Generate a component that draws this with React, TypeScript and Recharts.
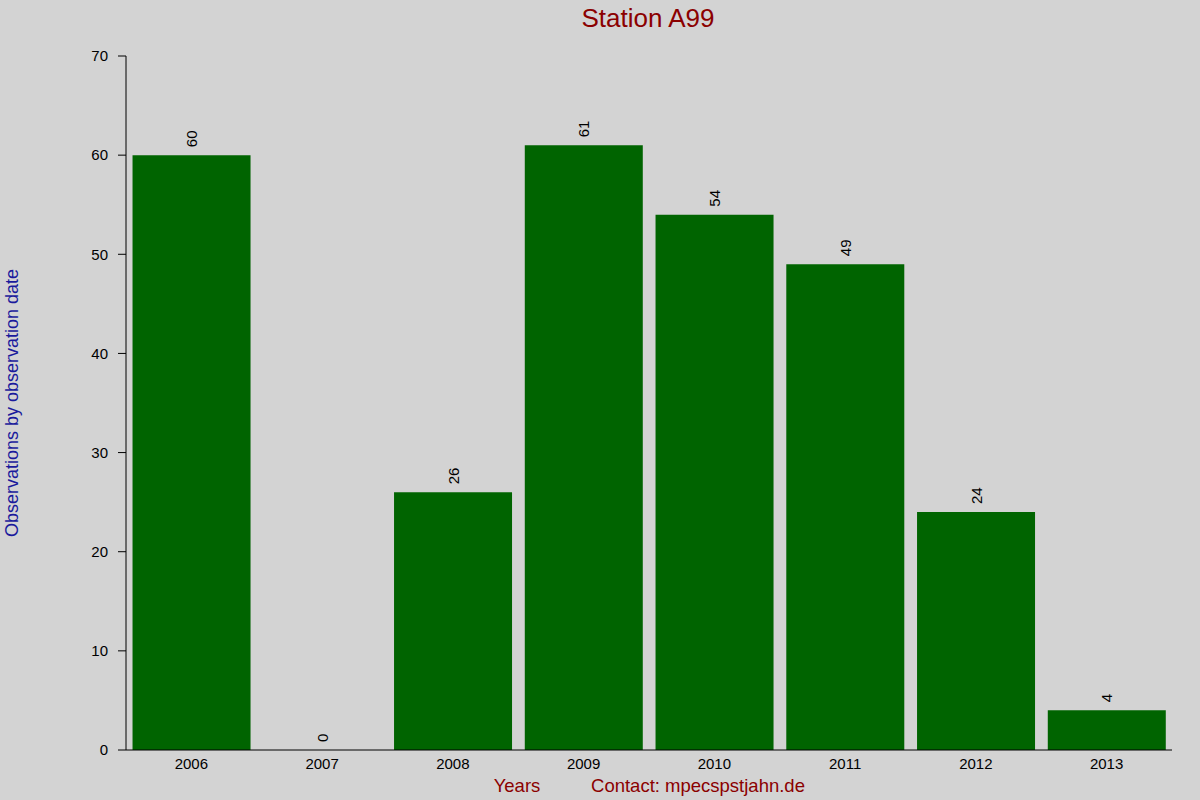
import React from 'react';
import { BarChart, Bar, XAxis, YAxis, LabelList, Label } from 'recharts';

const years = ['2006', '2007', '2008', '2009', '2010', '2011', '2012', '2013'];
const observations = [60, 0, 26, 61, 54, 49, 24, 4];
const yTicks = [0, 10, 20, 30, 40, 50, 60, 70];

const chartTitle = 'Station A99';
const yTitle = 'Observations by observation date';
const xTitle = 'Years';
const contact = 'Contact: mpecspstjahn.de';

const data = years.map((year, i) => ({ year, count: observations[i] }));

const FONT = 'Arial, "Liberation Sans", sans-serif';
const RED = '#8b0000';
const BLUE = '#1a1a9c';

// value label above each bar, rotated to read bottom-up
const ValueLabel = (props: any) => {
  const { x, y, width, value } = props;
  const cx = Number(x) + Number(width) / 2;
  const cy = Number(y) - 8;
  return (
    <text
      transform={`translate(${cx}, ${cy}) rotate(-90)`}
      textAnchor="start"
      dominantBaseline="central"
      fontSize={15}
      fontFamily={FONT}
      fill="#000"
    >
      {value}
    </text>
  );
};

const Titles = () => (
  <g fontFamily={FONT}>
    <text x={648} y={27} textAnchor="middle" fontSize={26} fill={RED}>
      {chartTitle}
    </text>
    <text
      transform="translate(12, 403) rotate(-90)"
      textAnchor="middle"
      dominantBaseline="central"
      fontSize={18}
      fill={BLUE}
    >
      {yTitle}
    </text>
    <text x={517} y={792} textAnchor="middle" fontSize={18.5} fill={RED}>
      {xTitle}
    </text>
    <text x={698} y={792} textAnchor="middle" fontSize={18.5} fill={RED}>
      {contact}
    </text>
  </g>
);

export default function App() {
  return (
    <div style={{ position: 'fixed', left: 0, top: 0, width: 1200, height: 800, background: '#d3d3d3' }}>
      <BarChart
        width={1200}
        height={800}
        data={data}
        margin={{ top: 55, right: 28, bottom: 20, left: 0 }}
        barCategoryGap="5%"
      >
        <XAxis
          dataKey="year"
          height={30}
          tickLine={false}
          axisLine={{ stroke: '#000' }}
          tick={{ fill: '#000', fontSize: 15, fontFamily: FONT }}
          tickMargin={2}
        />
        <XAxis
          xAxisId="top"
          orientation="top"
          dataKey="year"
          height={1}
          axisLine={false}
          tick={false}
          tickSize={1}
          tickLine={{ stroke: '#000' }}
        />
        <YAxis
          width={126}
          domain={[0, 70]}
          ticks={yTicks}
          tickSize={8}
          tickMargin={10}
          axisLine={{ stroke: '#000' }}
          tickLine={{ stroke: '#000' }}
          tick={{ fill: '#000', fontSize: 15, fontFamily: FONT }}
        >
          <Label content={() => <Titles />} />
        </YAxis>
        <Bar dataKey="count" fill="#006400" minPointSize={0.01} isAnimationActive={false}>
          <LabelList dataKey="count" content={ValueLabel} />
        </Bar>
      </BarChart>
    </div>
  );
}
